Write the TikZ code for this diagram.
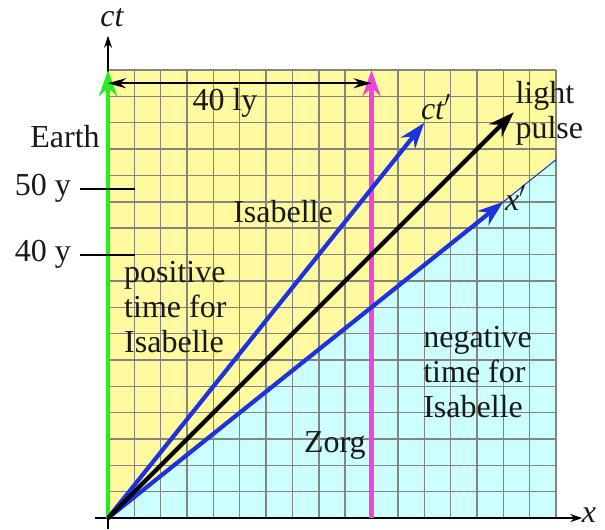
\documentclass[tikz,border=0pt]{standalone}
\usepackage{fontspec}
\setmainfont{Liberation Serif}
\usetikzlibrary{arrows.meta}
\definecolor{bgyellow}{HTML}{FFFAA0}
\definecolor{bgcyan}{HTML}{CCFFFF}
\definecolor{gridc}{HTML}{858580}
\definecolor{earthgreen}{HTML}{22EE22}
\definecolor{zorgmag}{HTML}{F044DD}
\definecolor{isablue}{HTML}{1E32E0}
\tikzset{
  worldline/.style={line width=2.1pt, -{Stealth[length=13pt,width=9pt]}},
  axisline/.style={line width=0.6pt, -{Stealth[length=6pt,width=4pt]}},
  lbl/.style={inner sep=0pt, text=black!90},
  tickline/.style={line width=1pt},
  gridline/.style={gridc, line width=0.7pt}
}
\begin{document}
\begin{tikzpicture}[x=13.175pt,y=13.175pt, font=\rmfamily\fontsize{16}{17.5}\selectfont]
\useasboundingbox (-4.10,-0.417) rectangle (18.86,19.66);
% background regions
\fill[bgyellow] (0,0) rectangle (17,17);
\fill[bgcyan] (0,0) -- (17,13.6) -- (17,0) -- cycle;
\foreach \i in {0,...,17} {
  \draw[gridline] (\i,0) -- (\i,17);
  \draw[gridline] (0,\i) -- (17,\i);
}
% coordinates
\coordinate (O) at (0,0);
\coordinate (ctbot) at (0,-0.4);
\coordinate (cttop) at (0,18.3);
\coordinate (xleft) at (-0.5,0);
\coordinate (xright) at (18.0,0);
\coordinate (earthtop) at (0,17);
\coordinate (zorgbot) at (10,0);
\coordinate (zorgtop) at (10,17);
\coordinate (ctp) at (12,15);
\coordinate (xp) at (15,12);
\coordinate (edge) at (17,13.6);
\coordinate (light) at (15.4,15.4);
\coordinate (lyL) at (0,16.5);
\coordinate (lyR) at (10,16.5);
\coordinate (t50a) at (-1.06,12.5);
\coordinate (t50b) at (1.02,12.5);
\coordinate (t40a) at (-1.06,10);
\coordinate (t40b) at (1.02,10);
% axes
\draw[axisline] (ctbot) -- (cttop);
\draw[axisline] (xleft) -- (xright);
% thin boundary line
\draw[isablue, line width=0.5pt] (O) -- (edge);
% world lines
\draw[worldline, earthgreen] (O) -- (earthtop);
\draw[worldline, zorgmag] (zorgbot) -- (zorgtop);
\draw[worldline, isablue] (O) -- (ctp);
\draw[worldline, isablue] (O) -- (xp);
\draw[worldline, black] (O) -- (light);
% 40 ly arrow
\draw[line width=1pt, {Stealth[length=9pt,width=5pt]}-{Stealth[length=9pt,width=5pt]}] (lyL) -- (lyR);
% ticks
\draw[tickline] (t50a) -- (t50b);
\draw[tickline] (t40a) -- (t40b);
% labels
\node[lbl] (ctlab) at (0.15,18.98) {\itshape ct};
\node[lbl] (xlab) at (18.25,0.1) {\itshape x};
\node[lbl, anchor=east] (earth) at (-0.3,14.46) {Earth};
\node[lbl] (y50) at (-2.47,12.5) {50 y};
\node[lbl] (y40) at (-2.47,10) {40 y};
\node[lbl] (ly) at (4.44,15.75) {40 ly};
\node[lbl] (isa) at (6.64,11.65) {Isabelle};
\node[lbl, anchor=west, align=left] (pos) at (0.6,8.0) {positive\\time for\\Isabelle};
\node[lbl, anchor=west, align=left] (neg) at (11.95,5.54) {negative\\time for\\Isabelle};
\node[lbl] (zorg) at (8.61,2.77) {Zorg};
\node[lbl, anchor=west, align=left] (lp) at (15.45,15.37) {light\\pulse};
\node[lbl] (ctplab) at (12.45,15.6) {\itshape ct$^{\prime}$};
\node[lbl, anchor=west] (xplab) at (15.05,12.15) {\itshape x$^{\prime}$};
\end{tikzpicture}
\end{document}
